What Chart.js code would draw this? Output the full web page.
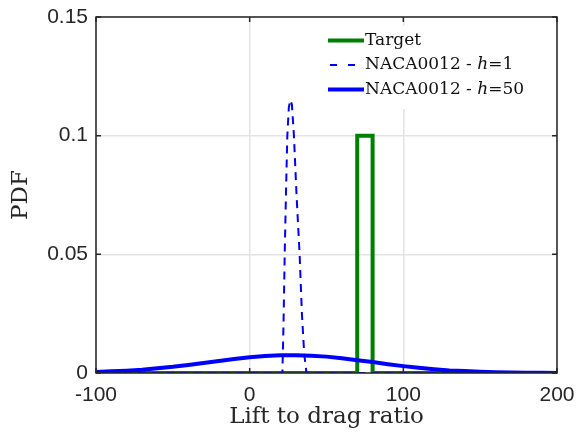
<!DOCTYPE html>
<html><head><meta charset="utf-8">
<script src="https://cdn.jsdelivr.net/npm/chart.js@4/dist/chart.umd.min.js"></script>
<style>html,body{margin:0;padding:0;background:#fff}#wrap{width:576px;height:432px}</style>
</head><body><div id="wrap"><canvas id="c" width="576" height="432"></canvas></div>
<script>
const xTicks = [-100, 0, 100, 200];
const yTicks = [0, 0.05, 0.1, 0.15];
const seriesNames = ['Target', 'NACA0012 - h=1', 'NACA0012 - h=50'];
const xTitle = 'Lift to drag ratio';
const yTitle = 'PDF';

const targetX = [-100, 70, 70, 80, 80, 200];
const targetY = [0, 0, 0.1, 0.1, 0, 0];

const h1X = [-100, 20, 21.3, 22, 22.8, 23.6, 24.5, 25.5, 26.5, 27.5, 28.8, 30.5, 32.5, 34, 35.5, 37, 200];
const h1Y = [0, 0, 0, 0.02, 0.05, 0.075, 0.1, 0.112, 0.115, 0.113, 0.1, 0.075, 0.05, 0.025, 0.008, 0, 0];

const h50X = [-100, -90, -80, -70, -60, -50, -40, -30, -20, -10, 0, 10, 20, 30, 40, 50, 60, 70, 80, 90, 100, 110, 120, 130, 140, 150, 160, 170, 180, 190, 200];
const h50Y = [0.0004, 0.0007, 0.001, 0.0014, 0.002, 0.0026, 0.0034, 0.0042, 0.0051, 0.0059, 0.0066, 0.0072, 0.0075, 0.0075, 0.0073, 0.0069, 0.0062, 0.0054, 0.0046, 0.0037, 0.0029, 0.0022, 0.0016, 0.0011, 0.0008, 0.0005, 0.0003, 0.0002, 0.0001, 0.0001, 0];

const pts = (xs, ys) => xs.map((x, i) => ({x: x, y: ys[i]}));

const frame = {
  id: 'frame',
  afterDatasetsDraw(chart) {
    const {ctx, chartArea: a, scales} = chart;
    ctx.save();
    ctx.strokeStyle = '#262626';
    ctx.lineWidth = 1.5;
    ctx.beginPath();
    xTicks.forEach(v => {
      const px = scales.x.getPixelForValue(v);
      ctx.moveTo(px, a.bottom); ctx.lineTo(px, a.bottom - 5);
      ctx.moveTo(px, a.top); ctx.lineTo(px, a.top + 5);
    });
    yTicks.forEach(v => {
      const py = scales.y.getPixelForValue(v);
      ctx.moveTo(a.left, py); ctx.lineTo(a.left + 5, py);
      ctx.moveTo(a.right, py); ctx.lineTo(a.right - 5, py);
    });
    ctx.stroke();
    ctx.strokeRect(a.left, a.top, a.right - a.left, a.bottom - a.top);
    const lx = a.left + 229, ly = a.top + 9, lw = a.right - lx - 1, lh = 83;
    ctx.fillStyle = '#fff';
    ctx.fillRect(lx, ly, lw, lh);
    const rowH = 24.5;
    chart.data.datasets.forEach((ds, i) => {
      const y = a.top + 23.5 + i * rowH;
      ctx.strokeStyle = ds.borderColor;
      ctx.lineWidth = ds.borderWidth;
      ctx.lineCap = 'butt';
      ctx.beginPath();
      if (ds.borderDash) {
        ctx.setLineDash([7, 11]);
        ctx.moveTo(lx + 5, y); ctx.lineTo(lx + 39, y);
      } else {
        ctx.setLineDash([]);
        ctx.moveTo(lx + 3, y); ctx.lineTo(lx + 39, y);
      }
      ctx.stroke();
      ctx.setLineDash([]);
      ctx.fillStyle = '#111';
      ctx.textBaseline = 'middle';
      ctx.textAlign = 'left';
      let tx = lx + 40;
      const label = ds.label;
      const k = label.indexOf(' h=');
      const segs = k < 0 ? [[label, false]] : [[label.slice(0, k + 1), false], ['h', true], [label.slice(k + 2), false]];
      segs.forEach(([s, it]) => {
        ctx.font = (it ? 'italic ' : '') + '17px "DejaVu Serif"';
        ctx.fillText(s, tx, y);
        tx += ctx.measureText(s).width;
      });
    });
    ctx.restore();
  }
};

const tickFont = {family: '"Liberation Sans", Arial, sans-serif', size: 21};
const titleFont = {family: '"DejaVu Serif", serif', size: 23};

new Chart(document.getElementById('c'), {
  type: 'scatter',
  data: {
    datasets: [
      {label: seriesNames[0], data: pts(targetX, targetY), showLine: true, borderColor: '#008000', borderWidth: 4, pointRadius: 0, tension: 0, order: 3, borderJoinStyle: 'miter'},
      {label: seriesNames[1], data: pts(h1X, h1Y), showLine: true, borderColor: '#0000ff', borderWidth: 2, borderDash: [8, 6], pointRadius: 0, tension: 0, order: 2},
      {label: seriesNames[2], data: pts(h50X, h50Y), showLine: true, borderColor: '#0000ff', borderWidth: 4, pointRadius: 0, tension: 0, order: 1}
    ]
  },
  options: {
    responsive: false,
    animation: false,
    devicePixelRatio: 1,
    layout: {padding: {top: 17, right: 19, left: 0, bottom: 0}},
    plugins: {legend: {display: false}, tooltip: {enabled: false}},
    scales: {
      x: {
        type: 'linear', min: -100, max: 200,
        afterBuildTicks: s => { s.ticks = xTicks.map(v => ({value: v})); },
        afterFit: s => { s.height = 59; s.paddingLeft = 0; s.paddingRight = 0; },
        grid: {color: '#e3e3e3', lineWidth: 1.5, drawTicks: false},
        border: {display: false},
        ticks: {font: tickFont, color: '#262626', padding: 10, maxRotation: 0, callback: v => String(v)},
        title: {display: true, text: xTitle, font: titleFont, color: '#262626', padding: {top: 0, bottom: 1}}
      },
      y: {
        type: 'linear', min: 0, max: 0.15,
        afterBuildTicks: s => { s.ticks = yTicks.map(v => ({value: v})); },
        afterFit: s => { s.width = 96; s.paddingTop = 0; s.paddingBottom = 0; },
        grid: {color: '#e3e3e3', lineWidth: 1.5, drawTicks: false},
        border: {display: false},
        ticks: {font: tickFont, color: '#262626', padding: 8, callback: v => String(v)},
        title: {display: true, text: yTitle, font: titleFont, color: '#262626', padding: {top: 7, bottom: 0}}
      }
    }
  },
  plugins: [frame]
});
</script></body></html>
